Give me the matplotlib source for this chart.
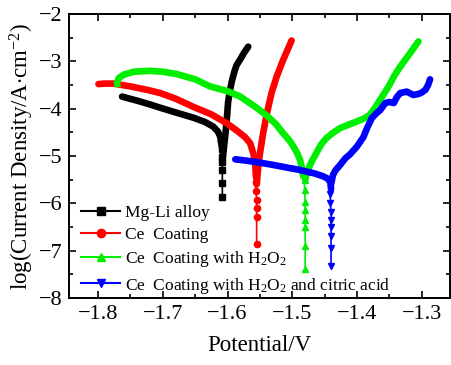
import numpy as np
import matplotlib
matplotlib.use("Agg")
import matplotlib.pyplot as plt
from matplotlib.lines import Line2D
from matplotlib.ticker import MultipleLocator

plt.rcParams['font.family'] = ['Liberation Serif', 'DejaVu Serif']
plt.rcParams['mathtext.fontset'] = 'custom'
plt.rcParams['mathtext.rm'] = 'Liberation Serif'
plt.rcParams['mathtext.it'] = 'Liberation Serif:italic'

# Mg-Li alloy
mg_cat_E = [-1.763, -1.74, -1.72, -1.704, -1.68, -1.653, -1.635, -1.622, -1.615, -1.611, -1.609]
mg_cat_i = [-3.745, -3.83, -3.91, -3.98, -4.08, -4.19, -4.28, -4.38, -4.48, -4.60, -4.80]
mg_an_E = [-1.607, -1.605, -1.603, -1.601, -1.599, -1.596, -1.593, -1.589, -1.586, -1.580, -1.575, -1.568]
mg_an_i = [-5.0, -4.75, -4.5, -4.2, -3.85, -3.6, -3.4, -3.2, -3.08, -2.95, -2.83, -2.69]
mg_tail_E = [-1.610, -1.609, -1.608, -1.608, -1.608, -1.608, -1.608]
mg_tail_i = [-4.65, -4.85, -5.02, -5.13, -5.30, -5.57, -5.87]

# Ce coating
ce_cat_E = [-1.7995, -1.79, -1.776, -1.75, -1.725, -1.704, -1.68, -1.653, -1.625, -1.601,
            -1.585, -1.573, -1.565, -1.560, -1.557, -1.556]
ce_cat_i = [-3.48, -3.47, -3.47, -3.53, -3.60, -3.67, -3.79, -3.96, -4.12, -4.31,
            -4.47, -4.60, -4.73, -4.95, -5.20, -5.45]
ce_an_E = [-1.555, -1.553, -1.551, -1.549, -1.545, -1.539, -1.532, -1.524, -1.514, -1.507, -1.501]
ce_an_i = [-5.6, -5.3, -5.05, -4.87, -4.52, -4.09, -3.67, -3.32, -2.97, -2.75, -2.56]
ce_tail_E = [-1.556, -1.556, -1.555, -1.555, -1.555, -1.555]
ce_tail_i = [-5.55, -5.75, -5.92, -6.09, -6.28, -6.85]

# Ce coating with H2O2
h2_cat_E = [-1.771, -1.768, -1.760, -1.745, -1.72, -1.70, -1.678, -1.65, -1.627, -1.60, -1.581,
            -1.555, -1.539, -1.525, -1.514, -1.505, -1.498, -1.492, -1.488, -1.485, -1.483]
h2_cat_i = [-3.46, -3.35, -3.28, -3.22, -3.20, -3.22, -3.27, -3.38, -3.53, -3.63, -3.74,
            -3.98, -4.15, -4.33, -4.52, -4.66, -4.80, -4.95, -5.08, -5.25, -5.43]
h2_an_E = [-1.480, -1.476, -1.470, -1.462, -1.455, -1.447, -1.436, -1.426, -1.413, -1.400,
           -1.388, -1.380, -1.372, -1.364, -1.351, -1.342, -1.333, -1.318, -1.305]
h2_an_i = [-5.5, -5.3, -5.12, -4.92, -4.75, -4.62, -4.5, -4.41, -4.34, -4.27,
           -4.2, -4.13, -3.98, -3.81, -3.53, -3.3, -3.11, -2.83, -2.58]
h2_tail_E = [-1.481, -1.481, -1.480, -1.480, -1.480, -1.480, -1.480, -1.480]
h2_tail_i = [-5.5, -5.71, -5.97, -6.14, -6.35, -6.49, -6.9, -7.38]

# Ce coating with H2O2 and citric acid
ca_cat_E = [-1.588, -1.57, -1.55, -1.529, -1.51, -1.49, -1.478, -1.465, -1.452, -1.445, -1.441, -1.440]
ca_cat_i = [-5.07, -5.10, -5.14, -5.19, -5.24, -5.29, -5.33, -5.37, -5.43, -5.48, -5.56, -5.7]
ca_an_E = [-1.440, -1.437, -1.433, -1.426, -1.418, -1.411, -1.400, -1.390, -1.384, -1.377, -1.370,
           -1.364, -1.356, -1.350, -1.343, -1.338, -1.333, -1.323, -1.313, -1.305, -1.300,
           -1.294, -1.290, -1.287]
ca_an_i = [-5.6, -5.4, -5.3, -5.19, -5.05, -4.97, -4.80, -4.60, -4.40, -4.20, -4.10,
           -4.03, -3.88, -3.86, -3.88, -3.75, -3.67, -3.64, -3.71, -3.69, -3.66,
           -3.60, -3.50, -3.38]
ca_tail_E = [-1.441, -1.441, -1.440, -1.440, -1.440, -1.440, -1.440, -1.440]
ca_tail_i = [-5.8, -5.99, -6.18, -6.35, -6.51, -6.70, -6.95, -7.33]

labels = ['Mg-Li alloy', 'Ce  Coating', r'Ce  Coating with H$_2$O$_2$',
          r'Ce  Coating with H$_2$O$_2$ and citric acid']
colors = ['#000000', '#ff0000', '#00ee00', '#0000ff']
markers = ['s', 'o', '^', 'v']

series = [
    (mg_cat_E, mg_cat_i, mg_an_E, mg_an_i, mg_tail_E, mg_tail_i),
    (ce_cat_E, ce_cat_i, ce_an_E, ce_an_i, ce_tail_E, ce_tail_i),
    (h2_cat_E, h2_cat_i, h2_an_E, h2_an_i, h2_tail_E, h2_tail_i),
    (ca_cat_E, ca_cat_i, ca_an_E, ca_an_i, ca_tail_E, ca_tail_i),
]

fig = plt.figure(figsize=(4.51, 3.65), dpi=100)
ax = fig.add_axes([0.153, 0.1836, 0.845, 0.778])

for (cE, ci, aE, ai, tE, ti), c, m in zip(series, colors, markers):
    ax.plot(tE, ti, '-', color=c, lw=1.2, marker=m, ms=4.5, zorder=2)
    ax.plot(cE, ci, '-', color=c, lw=4.8, solid_capstyle='round', zorder=3)
    ax.plot(aE, ai, '-', color=c, lw=4.8, solid_capstyle='round', zorder=3)

# start marker of the H2O2 curve
ax.plot(h2_cat_E[0], h2_cat_i[0], '^', color=colors[2], ms=5, zorder=4)

ax.set_xlim(-1.845, -1.256)
ax.set_ylim(-8, -2)
ax.xaxis.set_major_locator(MultipleLocator(0.1))
ax.xaxis.set_minor_locator(MultipleLocator(0.05))
ax.yaxis.set_major_locator(MultipleLocator(1))
ax.yaxis.set_minor_locator(MultipleLocator(0.5))
ax.tick_params(which='both', direction='in', top=True, right=True, labelsize=16, width=1.2)
ax.tick_params(which='major', length=5, pad=5)
ax.tick_params(which='minor', length=3)
for s in ax.spines.values():
    s.set_linewidth(1.4)

ax.set_xlabel('Potential/V', fontsize=16.5, labelpad=8)
ax.set_ylabel(r'log(Current Density/A$\cdot$cm$^{-2}$)', fontsize=16.5, labelpad=2)

handles = [Line2D([0], [0], color=c, lw=1.5, marker=m, ms=6) for c, m in zip(colors, markers)]
ax.legend(handles, labels, loc='lower left', frameon=False, fontsize=12.5,
          handlelength=2.2, handletextpad=0.3, labelspacing=0.35,
          borderaxespad=0.1, bbox_to_anchor=(0.01, -0.022))

fig.savefig('out.png', dpi=100)
